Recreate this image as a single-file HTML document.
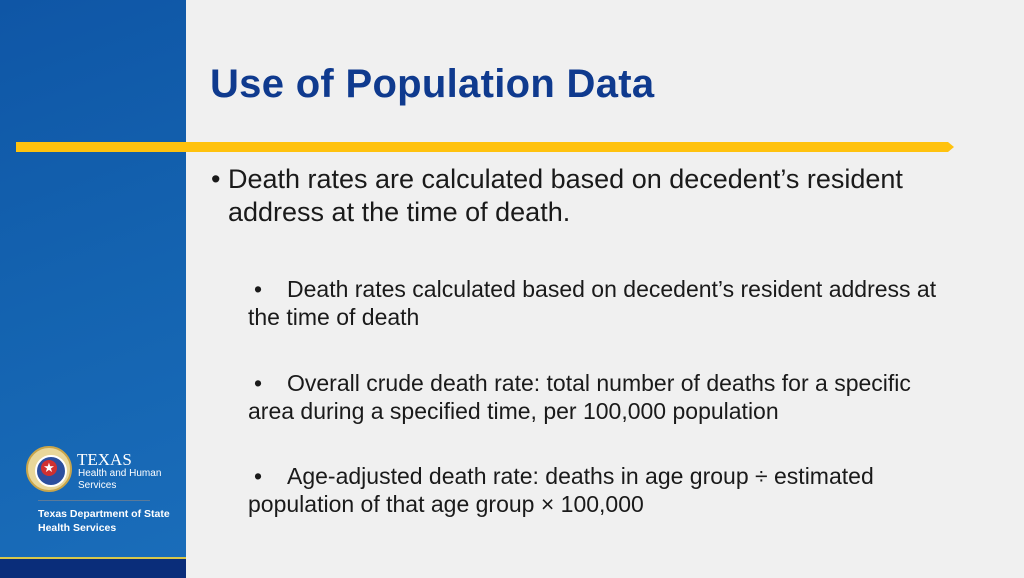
<!DOCTYPE html>
<html><head><meta charset="utf-8"><style>
body{margin:0;width:1024px;height:576px;overflow:hidden;background:#f0f0f0;font-family:"Liberation Sans",sans-serif;position:relative}
.left{position:absolute;left:0;top:0;width:186px;height:576px;background:linear-gradient(160deg,#0f56a6 0%,#1463b0 50%,#1a6dba 100%)}
.navy{position:absolute;left:0;top:557px;width:186px;height:19px;background:#0a2d7a;border-top:2px solid #d8c84a}
.bar{position:absolute;left:16px;top:142px;width:932px;height:10px;background:#ffc20e}
.bar:after{content:"";position:absolute;right:-6px;top:0;border-left:6px solid #ffc20e;border-top:5px solid transparent;border-bottom:5px solid transparent}
h1{position:absolute;left:210px;top:61px;margin:0;font-size:40px;line-height:46px;font-weight:bold;color:#0f3a8e;letter-spacing:0.3px;white-space:nowrap}
.t{position:absolute;color:#1a1a1a;white-space:nowrap}
.main{left:211px;top:163px;font-size:27px;line-height:33px}
.sub{left:248px;font-size:23px;line-height:28px}
.b{display:inline-block;width:39px;padding-left:6px;box-sizing:border-box}
.logo{position:absolute;left:26px;top:446px;width:46px;height:46px;border-radius:50%;background:#e9d79a;border:2px solid #c9a54a;box-sizing:border-box}
.logo .in{position:absolute;left:7px;top:7px;width:28px;height:28px;border-radius:50%;background:#2c4f9e;border:2px solid #fff}
.logo .st{position:absolute;left:13px;top:12px;width:16px;height:16px;border-radius:50%;background:#d03030;color:#fff;font-size:13px;line-height:16px;text-align:center}
.w{position:absolute;color:#fff}
</style></head><body>
<div class="left"></div>
<div class="navy"></div>
<div class="logo"><div class="in"></div><div class="st">★</div></div>
<div class="w" style="left:77px;top:450px;font-size:17px;font-family:'Liberation Serif',serif">TEXAS</div>
<div class="w" style="left:78px;top:468px;font-size:10px;line-height:12px">Health and Human<br>Services</div>
<div style="position:absolute;left:38px;top:500px;width:112px;height:1px;background:#5a7a9a"></div>
<div class="w" style="left:38px;top:507px;font-size:10.5px;line-height:14px;font-weight:bold">Texas Department of State<br>Health Services</div>
<h1>Use of Population Data</h1>
<div class="bar"></div>
<div class="t main">• Death rates are calculated based on decedent’s resident<br><span style="padding-left:17px">address at the time of death.</span></div>
<div class="t sub" style="top:275px"><span class="b">•</span>Death rates calculated based on decedent’s resident address at<br>the time of death</div>
<div class="t sub" style="top:369px"><span class="b">•</span>Overall crude death rate: total number of deaths for a specific<br>area during a specified time, per 100,000 population</div>
<div class="t sub" style="top:462px"><span class="b">•</span>Age-adjusted death rate: deaths in age group ÷ estimated<br>population of that age group × 100,000</div>
</body></html>
